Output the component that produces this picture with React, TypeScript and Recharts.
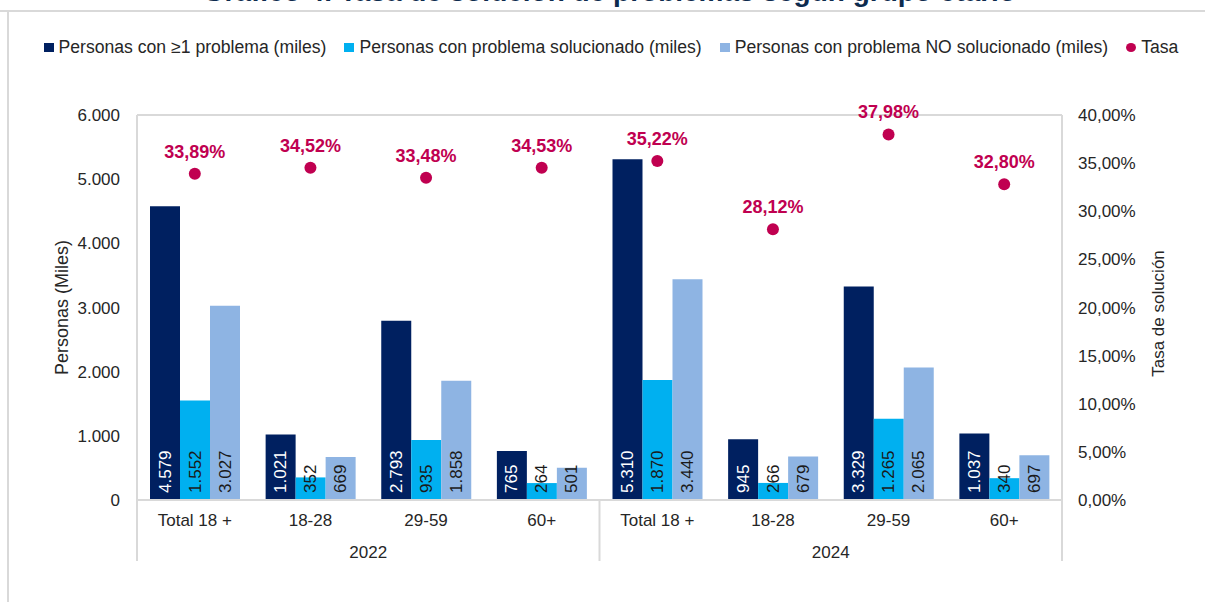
import React from 'react';
import { ComposedChart, Bar, Line, XAxis, YAxis, LabelList, ReferenceLine } from 'recharts';

const categories = ['Total 18 +', '18-28', '29-59', '60+', 'Total 18 +', '18-28', '29-59', '60+'];
const years = ['2022', '2022', '2022', '2022', '2024', '2024', '2024', '2024'];
const conProblema = [4579, 1021, 2793, 765, 5310, 945, 3329, 1037];
const solucionado = [1552, 352, 935, 264, 1870, 266, 1265, 340];
const noSolucionado = [3027, 669, 1858, 501, 3440, 679, 2065, 697];
const tasa = [0.3389, 0.3452, 0.3348, 0.3453, 0.3522, 0.2812, 0.3798, 0.328];
const leftTicks = [0, 1000, 2000, 3000, 4000, 5000, 6000];
const rightTicks = [0, 0.05, 0.1, 0.15, 0.2, 0.25, 0.3, 0.35, 0.4];
const groupBounds = [0, 4, 8];

const seriesNames = [
  'Personas con ≥1 problema (miles)',
  'Personas con problema solucionado (miles)',
  'Personas con problema NO solucionado (miles)',
  'Tasa',
];

const NAVY = '#002060';
const CYAN = '#00B0F0';
const LIGHT = '#8EB4E3';
const RED = '#C00050';
const GRAY = '#D9D9D9';
const TEXT = '#262626';
const FONT = '"Liberation Sans", Arial, sans-serif';

const SEP = 'a1sep';
const CAT = 'a2cat';
const YEAR = 'a3year';

const data = categories.map((cat, i) => ({
  cat,
  year: years[i],
  idx: i,
  total: conProblema[i],
  sol: solucionado[i],
  nosol: noSolucionado[i],
  rate: tasa[i],
}));

const fmtThousands = (n: number) => String(Math.round(n)).replace(/\B(?=(\d{3})+(?!\d))/g, '.');
const fmtPct = (v: number) => (v * 100).toFixed(2).replace('.', ',') + '%';

const makeBarLabel = (color: string) => (props: any) => {
  const vb = props.viewBox || props;
  const x = Number(vb.x ?? props.x);
  const y = Number(vb.y ?? props.y);
  const w = Number(vb.width ?? props.width);
  const h = Number(vb.height ?? props.height);
  const cx = x + w / 2;
  const by = y + h - 7;
  return (
    <text
      x={cx}
      y={by}
      transform={`rotate(-90 ${cx} ${by})`}
      textAnchor="start"
      dominantBaseline="central"
      fill={color}
      fontSize={17}
      fontFamily={FONT}
    >
      {fmtThousands(Number(props.value))}
    </text>
  );
};

const noTick = () => <g />;

const legendColors = [NAVY, CYAN, LIGHT, RED];

export default function App() {
  return (
    <div
      style={{
        position: 'absolute',
        left: 0,
        top: 0,
        width: 1205,
        height: 602,
        overflow: 'hidden',
        background: '#fff',
        fontFamily: FONT,
      }}
    >
      <svg width={1205} height={602} style={{ position: 'absolute', left: 0, top: 0 }}>
        <text
          x={1016}
          y={1}
          textAnchor="end"
          fontSize={28}
          fontWeight="bold"
          fill="#0D2B4E"
          fontFamily={FONT}
        >
          Gráfico 4. Tasa de solución de problemas según grupo etario
        </text>
        <line x1={0} y1={11} x2={1205} y2={11} stroke={GRAY} strokeWidth={2} />
        <line x1={8} y1={11} x2={8} y2={602} stroke={GRAY} strokeWidth={2} />
      </svg>
      <div
        style={{
          position: 'absolute',
          left: 0,
          top: 37,
          width: 1222,
          display: 'flex',
          justifyContent: 'center',
          alignItems: 'center',
          fontSize: 17.6,
          color: TEXT,
          whiteSpace: 'nowrap',
        }}
      >
        {seriesNames.map((name, i) => (
          <div key={name} style={{ display: 'flex', alignItems: 'center', marginRight: i < 3 ? 18 : 0 }}>
            <span
              style={{
                display: 'inline-block',
                width: 10,
                height: 9,
                background: legendColors[i],
                borderRadius: i === 3 ? '50%' : 0,
                marginRight: 5,
              }}
            />
            <span>{name}</span>
          </div>
        ))}
      </div>
      <div style={{ position: 'absolute', left: 0, top: 0 }}>
        <ComposedChart
          width={1205}
          height={602}
          data={data}
          barGap={0}
          margin={{ top: 115, right: 0, bottom: 31, left: 0 }}
        >
          <XAxis
            xAxisId={SEP}
            type="number"
            dataKey="idx"
            domain={[0, 8]}
            ticks={groupBounds}
            allowDataOverflow
            interval={0}
            height={1}
            tick={noTick}
            tickSize={61}
            tickLine={{ stroke: GRAY, strokeWidth: 2 }}
            axisLine={{ stroke: GRAY, strokeWidth: 2 }}
          />
          <XAxis
            xAxisId={CAT}
            dataKey="cat"
            interval={0}
            height={30}
            tickLine={false}
            axisLine={false}
            tickSize={0}
            tickMargin={13}
            tick={{ fontSize: 17, fill: TEXT, fontFamily: FONT }}
          />
          <XAxis
            xAxisId={YEAR}
            dataKey="year"
            allowDuplicatedCategory={false}
            interval={0}
            height={40}
            tickLine={false}
            axisLine={false}
            tickSize={0}
            tickMargin={15}
            tick={{ fontSize: 17, fill: TEXT, fontFamily: FONT }}
          />
          <YAxis
            yAxisId="left"
            orientation="left"
            width={137}
            domain={[0, 6000]}
            ticks={leftTicks}
            interval={0}
            tickFormatter={fmtThousands}
            tickLine={false}
            tickSize={0}
            tickMargin={17}
            axisLine={{ stroke: GRAY, strokeWidth: 2 }}
            tick={{ fontSize: 17, fill: TEXT, fontFamily: FONT }}
            label={{
              content: ({ viewBox }: any) => {
                const cx = (viewBox?.x ?? 0) + 62;
                const cy = (viewBox?.y ?? 115) + (viewBox?.height ?? 385) / 2;
                return (
                  <text
                    x={cx}
                    y={cy}
                    transform={`rotate(-90 ${cx} ${cy})`}
                    textAnchor="middle"
                    dominantBaseline="central"
                    fontSize={18}
                    fill={TEXT}
                    fontFamily={FONT}
                  >
                    Personas (Miles)
                  </text>
                );
              },
            }}
          />
          <YAxis
            yAxisId="right"
            orientation="right"
            width={143}
            domain={[0, 0.4]}
            ticks={rightTicks}
            interval={0}
            tickFormatter={fmtPct}
            tickLine={false}
            tickSize={0}
            tickMargin={16}
            axisLine={{ stroke: GRAY, strokeWidth: 2 }}
            tick={{ fontSize: 17, fill: TEXT, fontFamily: FONT, textAnchor: 'start' }}
            label={{
              content: ({ viewBox }: any) => {
                const cx = (viewBox?.x ?? 1062) + 96;
                const cy = (viewBox?.y ?? 115) + (viewBox?.height ?? 385) / 2 + 6;
                return (
                  <text
                    x={cx}
                    y={cy}
                    transform={`rotate(-90 ${cx} ${cy})`}
                    textAnchor="middle"
                    dominantBaseline="central"
                    fontSize={17}
                    fill={TEXT}
                    fontFamily={FONT}
                  >
                    Tasa de solución
                  </text>
                );
              },
            }}
          />
          <ReferenceLine xAxisId={CAT} yAxisId="left" y={6000} stroke={GRAY} strokeWidth={2} />
          <Bar xAxisId={CAT} yAxisId="left" dataKey="total" name={seriesNames[0]} fill={NAVY} barSize={30} isAnimationActive={false}>
            <LabelList dataKey="total" content={makeBarLabel('#FFFFFF')} />
          </Bar>
          <Bar xAxisId={CAT} yAxisId="left" dataKey="sol" name={seriesNames[1]} fill={CYAN} barSize={30} isAnimationActive={false}>
            <LabelList dataKey="sol" content={makeBarLabel('#1A1A1A')} />
          </Bar>
          <Bar xAxisId={CAT} yAxisId="left" dataKey="nosol" name={seriesNames[2]} fill={LIGHT} barSize={30} isAnimationActive={false}>
            <LabelList dataKey="nosol" content={makeBarLabel('#1A1A1A')} />
          </Bar>
          <Line
            xAxisId={CAT}
            yAxisId="right"
            dataKey="rate"
            name={seriesNames[3]}
            stroke="none"
            dot={{ r: 6, fill: RED, stroke: RED, strokeWidth: 0 }}
            activeDot={false}
            isAnimationActive={false}
          >
            <LabelList
              dataKey="rate"
              position="top"
              offset={16}
              formatter={(v: any) => fmtPct(Number(v))}
              style={{ fontSize: 18, fontWeight: 'bold', fill: RED, fontFamily: FONT }}
            />
          </Line>
        </ComposedChart>
      </div>
    </div>
  );
}
